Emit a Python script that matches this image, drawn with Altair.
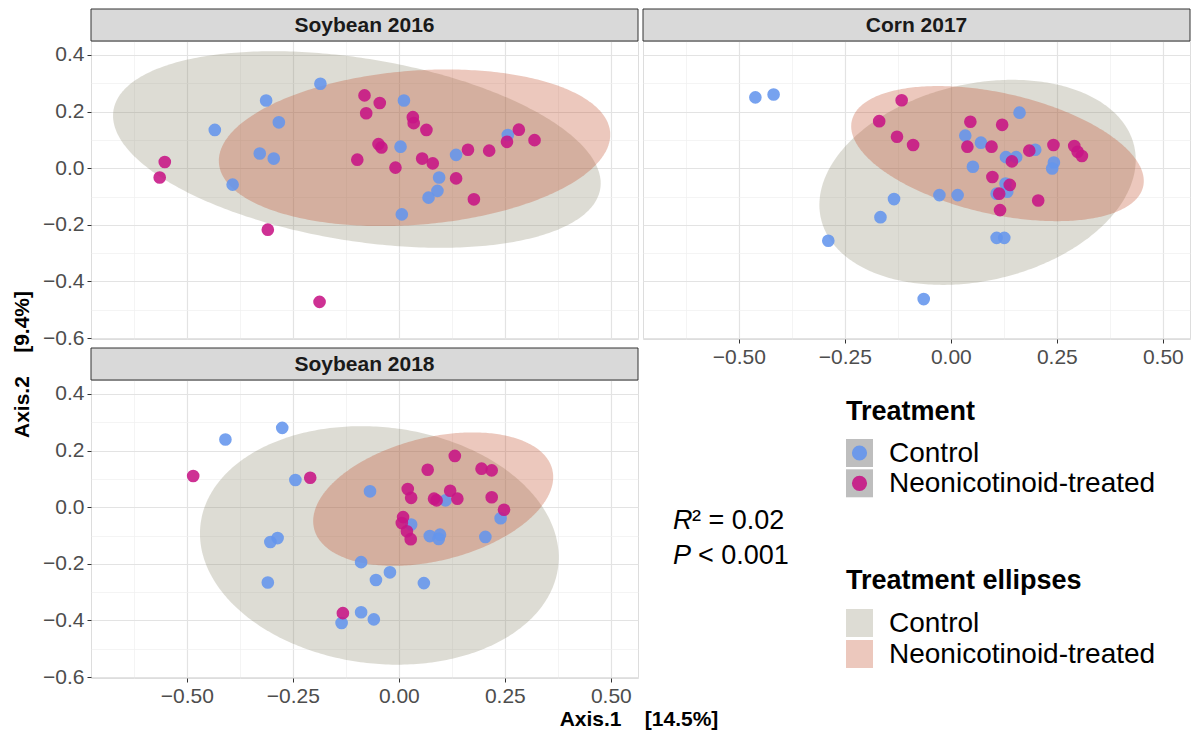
import altair as alt
import numpy as np
import pandas as pd

FONT = "Liberation Sans"

panels = ["Soybean 2016", "Corn 2017", "Soybean 2018"]
treatments = ["Control", "Neonicotinoid-treated"]
point_colors = ["#6495ED", "#C71585"]
ellipse_colors = ["#8E8A70", "#C04826"]

# ---- Soybean 2016 ----
s16_ctrl_x = [-0.185, -0.313, -0.283, -0.434, -0.328, -0.295, -0.392, 0.012, 0.004, 0.095, 0.091, 0.070, 0.007, 0.135, 0.257]
s16_ctrl_y = [0.298, 0.239, 0.162, 0.135, 0.052, 0.034, -0.058, 0.239, 0.076, -0.033, -0.080, -0.104, -0.163, 0.047, 0.117]
s16_neo_x = [-0.081, -0.045, -0.077, 0.033, 0.035, 0.065, -0.048, -0.041, -0.098, -0.008, 0.055, 0.080, 0.135, 0.177,
             0.163, 0.213, 0.255, 0.283, 0.320, -0.552, -0.564, -0.309, -0.187]
s16_neo_y = [0.257, 0.230, 0.194, 0.180, 0.159, 0.135, 0.085, 0.073, 0.030, 0.002, 0.034, 0.017, -0.036, -0.110,
             0.065, 0.062, 0.093, 0.136, 0.099, 0.022, -0.033, -0.217, -0.472]

# ---- Corn 2017 ----
c17_ctrl_x = [-0.461, -0.418, 0.162, 0.034, 0.071, 0.130, 0.154, 0.199, 0.243, 0.239, 0.052, 0.129, 0.133, 0.108,
              -0.027, 0.016, -0.134, -0.166, -0.289, 0.108, 0.126, -0.064]
c17_ctrl_y = [0.250, 0.260, 0.196, 0.115, 0.090, 0.039, 0.039, 0.065, 0.020, -0.001, 0.005, -0.054, -0.083, -0.090,
              -0.095, -0.095, -0.109, -0.173, -0.256, -0.246, -0.246, -0.462]
c17_neo_x = [-0.116, -0.169, -0.127, -0.089, 0.046, 0.121, 0.039, 0.096, 0.185, 0.242, 0.291, 0.299, 0.309, 0.144,
             0.098, 0.139, 0.114, 0.206, 0.116]
c17_neo_y = [0.240, 0.166, 0.111, 0.082, 0.164, 0.153, 0.076, 0.076, 0.062, 0.082, 0.078, 0.058, 0.043, 0.024,
             -0.031, -0.059, -0.090, -0.114, -0.148]

# ---- Soybean 2018 ----
s18_ctrl_x = [-0.275, -0.409, -0.244, -0.068, 0.110, 0.029, -0.286, -0.303, 0.073, 0.097, 0.094, 0.204, 0.240,
              -0.089, -0.021, -0.054, -0.309, 0.059, -0.089, -0.059, -0.135]
s18_ctrl_y = [0.280, 0.239, 0.096, 0.056, 0.024, -0.061, -0.109, -0.123, -0.102, -0.097, -0.112, -0.105, -0.039,
              -0.194, -0.230, -0.257, -0.266, -0.268, -0.371, -0.396, -0.409]
s18_neo_x = [-0.485, -0.209, 0.132, 0.068, 0.195, 0.219, 0.021, 0.029, 0.121, 0.138, 0.083, 0.089, 0.219, 0.248,
             0.010, 0.007, 0.019, 0.028, -0.132]
s18_neo_y = [0.110, 0.104, 0.181, 0.132, 0.136, 0.130, 0.064, 0.033, 0.058, 0.030, 0.030, 0.024, 0.035, -0.009,
             -0.035, -0.056, -0.085, -0.113, -0.374]

# ---- 95% ellipses (centre, half-extent in x and y, correlation) ----
ell_panel = ["Soybean 2016", "Soybean 2016", "Corn 2017", "Corn 2017", "Soybean 2018", "Soybean 2018"]
ell_group = ["Control", "Neonicotinoid-treated"] * 3
ell_cx = [-0.099, 0.037, 0.063, 0.110, -0.046, 0.081]
ell_cy = [0.066, 0.072, -0.050, 0.0515, -0.135, 0.0285]
ell_sx = [0.575, 0.4615, 0.373, 0.345, 0.423, 0.283]
ell_sy = [0.347, 0.2765, 0.362, 0.2385, 0.421, 0.2355]
ell_r = [-0.344, 0.166, 0.22, -0.405, -0.10, 0.33]

r2_text = "= 0.02"
p_text = "< 0.001"
x_title = "Axis.1\u00a0\u00a0\u00a0\u00a0[14.5%]"
y_title = "Axis.2\u00a0\u00a0\u00a0\u00a0[9.4%]"

x_domain = [-0.726, 0.564]
y_domain = [-0.603, 0.449]
x_grid = [-0.625, -0.5, -0.375, -0.25, -0.125, 0.0, 0.125, 0.25, 0.375, 0.5]
y_grid = [-0.6, -0.5, -0.4, -0.3, -0.2, -0.1, 0.0, 0.1, 0.2, 0.3, 0.4]

# ---------- tables ----------
rows = []
for pn, series in [
    ("Soybean 2016", [(s16_ctrl_x, s16_ctrl_y, "Control"), (s16_neo_x, s16_neo_y, "Neonicotinoid-treated")]),
    ("Corn 2017", [(c17_ctrl_x, c17_ctrl_y, "Control"), (c17_neo_x, c17_neo_y, "Neonicotinoid-treated")]),
    ("Soybean 2018", [(s18_ctrl_x, s18_ctrl_y, "Control"), (s18_neo_x, s18_neo_y, "Neonicotinoid-treated")]),
]:
    for xs, ys, g in series:
        for xv, yv in zip(xs, ys):
            rows.append({"panel": pn, "treatment": g, "x": xv, "y": yv})
pts = pd.DataFrame(rows)

erows = []
for pn, g, cx, cy, sx, sy, r in zip(ell_panel, ell_group, ell_cx, ell_cy, ell_sx, ell_sy, ell_r):
    t = np.linspace(np.pi, 0, 181)
    c = np.sqrt(1 - r * r)
    for tt in t:
        erows.append({
            "panel": pn, "group": g,
            "x": cx + sx * np.cos(tt),
            "ylo": cy + sy * (r * np.cos(tt) - c * np.sin(tt)),
            "yhi": cy + sy * (r * np.cos(tt) + c * np.sin(tt)),
        })
ells = pd.DataFrame(erows)

W, H = 547, 298
xtest = "abs(datum.value*4 - round(datum.value*4)) < 0.001"
ytest = "abs(datum.value*5 - round(datum.value*5)) < 0.001"


def make_axis(values, test, fmt, show_labels):
    expr = f"({test}) ? ((datum.value < -0.0001 ? '\u2212' : '') + format(abs(datum.value), '{fmt}')) : ''"
    kw = dict(
        values=values, title=None, domain=False, grid=True,
        gridColor={"condition": {"test": test, "value": "#e3e3e3"}, "value": "#efefef"},
        gridWidth={"condition": {"test": test, "value": 1.2}, "value": 0.7},
        labelOverlap=False, labelFlush=False,
    )
    if show_labels:
        kw.update(labels=True, labelExpr=expr, ticks=True, tickSize=4, tickWidth=1,
                  tickColor={"condition": {"test": test, "value": "#333333"}, "value": "transparent"},
                  labelFont=FONT, labelFontSize=21, labelColor="#4d4d4d", labelPadding=3)
    else:
        kw.update(labels=False, ticks=False)
    return alt.Axis(**kw)


def one(**kw):
    return pd.DataFrame([kw])


def panel(name, show_x, show_y, extras=()):
    xax = make_axis(x_grid, xtest, ".2f", show_x)
    yax = make_axis(y_grid, ytest, ".1f", show_y)
    xs = alt.Scale(domain=x_domain, nice=False, zero=False)
    ys = alt.Scale(domain=y_domain, nice=False, zero=False)
    layers = []
    for g, col in zip(treatments, ellipse_colors):
        d = ells[(ells.panel == name) & (ells.group == g)]
        layers.append(
            alt.Chart(d).mark_area(fill=col, fillOpacity=0.3, strokeWidth=0).encode(
                x=alt.X("x:Q", scale=xs, axis=xax),
                y=alt.Y("ylo:Q", scale=ys, axis=yax),
                y2="yhi:Q",
            )
        )
    layers.append(
        alt.Chart(pts[pts.panel == name]).mark_circle(size=160, opacity=0.88).encode(
            x=alt.X("x:Q", scale=xs, axis=xax),
            y=alt.Y("y:Q", scale=ys, axis=yax),
            color=alt.Color("treatment:N", scale=alt.Scale(domain=treatments, range=point_colors), legend=None),
        )
    )
    # strip
    layers.append(
        alt.Chart(one(t=name)).mark_rect(fill="#d9d9d9", stroke="#333333", strokeWidth=1).encode(
            x=alt.value(0), x2=alt.value(W), y=alt.value(-32), y2=alt.value(0)
        )
    )
    layers.append(
        alt.Chart(one(t=name)).mark_text(font=FONT, fontSize=21, fontWeight="bold", color="#1a1a1a",
                                         align="center", baseline="middle").encode(
            x=alt.value(W / 2), y=alt.value(-15.5), text="t:N"
        )
    )
    layers.extend(extras)
    return alt.layer(*layers).properties(width=W, height=H)


ytitle_layer = alt.Chart(one(t=y_title)).mark_text(
    font=FONT, fontSize=21, fontWeight="bold", color="black", angle=270, align="center", baseline="alphabetic"
).encode(x=alt.value(-62), y=alt.value(323.5), text="t:N")

xtitle_layer = alt.Chart(one(t=x_title)).mark_text(
    font=FONT, fontSize=21, fontWeight="bold", color="black", align="center", baseline="alphabetic"
).encode(x=alt.value(548), y=alt.value(346), text="t:N")

p1 = panel("Soybean 2016", False, True, [ytitle_layer])
p2 = panel("Corn 2017", True, False)
p3 = panel("Soybean 2018", True, True, [xtitle_layer])

# ---------- legend / annotation panel ----------
leg_layers = []


def txt(t, x, y, size=28, weight="normal", style="normal", baseline="middle"):
    return alt.Chart(one(t=t)).mark_text(
        font=FONT, fontSize=size, fontWeight=weight, fontStyle=style, color="black", align="left", baseline=baseline
    ).encode(x=alt.value(x), y=alt.value(y), text="t:N")


KX0, KX1 = 203, 230
LX = 246
leg_layers.append(txt("Treatment", KX0, 32, size=27, weight="bold"))
for i, (lab, col) in enumerate(zip(treatments, point_colors)):
    y0 = 59 + i * 30.3
    leg_layers.append(
        alt.Chart(one(t=lab)).mark_rect(fill="#bebebe").encode(
            x=alt.value(KX0), x2=alt.value(KX1), y=alt.value(y0), y2=alt.value(y0 + 28))
    )
    leg_layers.append(
        alt.Chart(one(t=lab)).mark_circle(size=230, opacity=0.9, color=col).encode(
            x=alt.value((KX0 + KX1) / 2), y=alt.value(y0 + 14))
    )
    leg_layers.append(txt(lab, LX, y0 + 15))

leg_layers.append(txt("Treatment ellipses", KX0, 201, size=27, weight="bold"))
for i, (lab, col) in enumerate(zip(treatments, ellipse_colors)):
    y0 = 229 + i * 31
    leg_layers.append(
        alt.Chart(one(t=lab)).mark_rect(fill=col, fillOpacity=0.3).encode(
            x=alt.value(KX0), x2=alt.value(KX1), y=alt.value(y0), y2=alt.value(y0 + 28))
    )
    leg_layers.append(txt(lab, LX, y0 + 15))

leg_layers.append(txt("R", 30, 149, size=27, style="italic", baseline="alphabetic"))
leg_layers.append(txt("\u00b2\u00a0" + r2_text, 49, 149, size=27, baseline="alphabetic"))
leg_layers.append(txt("P", 30, 184, size=27, style="italic", baseline="alphabetic"))
leg_layers.append(txt(p_text, 55, 184, size=27, baseline="alphabetic"))

leg = alt.layer(*leg_layers).properties(width=548, height=H, view=alt.ViewBackground(strokeOpacity=0))

chart = alt.concat(
    p1, p2, p3, leg, columns=2, spacing={"row": 41, "column": 5}, bounds="flush"
).properties(
    padding={"left": 3, "top": 0, "right": 0, "bottom": 0}, background="white"
).configure_view(
    stroke="#333333", strokeWidth=1
).configure(
    font=FONT
)

chart.save("out.html", embed_options={"renderer": "svg", "actions": False})
